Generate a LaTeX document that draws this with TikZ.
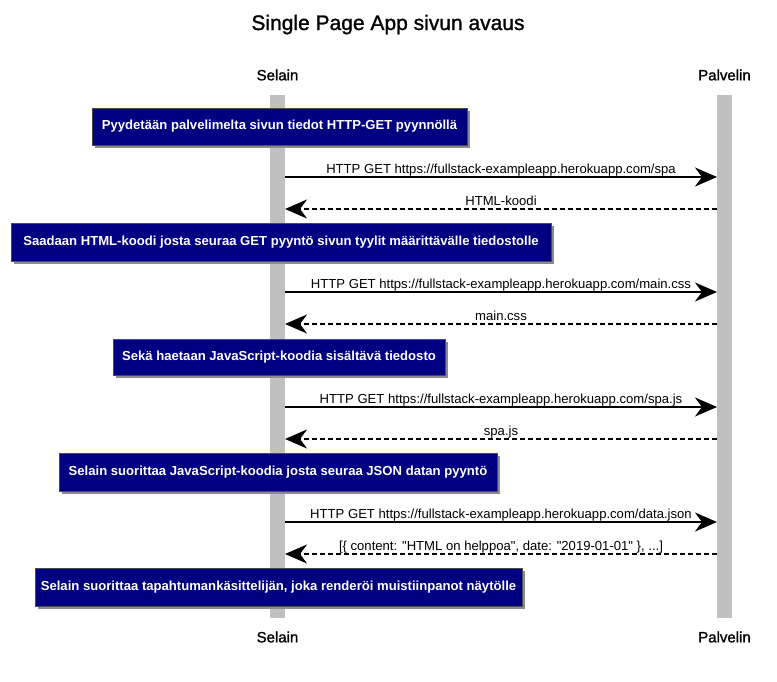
\documentclass[tikz,border=0pt]{standalone}
\usepackage{fontspec}
\setmainfont{Liberation Sans}
\newfontfamily\headfont[FakeBold=1.2]{Liberation Sans}
\usetikzlibrary{arrows.meta}
\definecolor{navy}{HTML}{000080}
\definecolor{barcol}{HTML}{C0C0C0}
\tikzset{
  lifebar/.style={fill=barcol, draw=none},
  actor/.style={font=\headfont\fontsize{15}{17}\selectfont, inner sep=0pt, anchor=center},
  notetext/.style={text=white, font=\bfseries\fontsize{13.1}{15}\selectfont, inner sep=0pt},
  shadow/.style={fill=black!45, draw=none},
  msg/.style={line width=1.6pt, -{Stealth[length=22pt,width=19pt,inset=7pt]}},
  reply/.style={msg, dash pattern=on 5pt off 3pt},
  msglabel/.style={font=\fontsize{13.1}{15}\selectfont, inner sep=0pt, anchor=base},
}
\begin{document}
\begin{tikzpicture}[x=1pt,y=-1pt]
\useasboundingbox (0,0) rectangle (777,681);
\fill[white] (0,0) rectangle (777,681);
% title
\node[font=\headfont\fontsize{21}{24}\selectfont, inner sep=0pt, anchor=base] (title) at (388,30) {Single Page App sivun avaus};
% actors
\node[actor] (selTop) at (277.5,75) {Selain};
\node[actor] (palTop) at (724.5,75) {Palvelin};
\node[actor] (selBot) at (277.5,637) {Selain};
\node[actor] (palBot) at (724.5,637) {Palvelin};
% lifelines
\fill[lifebar] (270,95) rectangle (285,618);
\fill[lifebar] (717,95) rectangle (732,618);
% notes (shadow + box)
\newcommand{\mynote}[6]{%
  \fill[shadow] (#2+2.5,#3+2.5) rectangle (#4+2.5,#5+2.5);
  \filldraw[fill=navy, draw=black!70, line width=0.4pt] (#2,#3) rectangle (#4,#5);
  \node[notetext] (#1) at ({(#2+#4)/2},{(#3+#5)/2}) {#6};
}
\mynote{n1}{92}{108}{467}{145}{Pyydetään palvelimelta sivun tiedot HTTP-GET pyynnöllä}
\mynote{n2}{11}{223}{551}{261}{Saadaan HTML-koodi josta seuraa GET pyyntö sivun tyylit määrittävälle tiedostolle}
\mynote{n3}{113}{339}{445}{375}{Sekä haetaan JavaScript-koodia sisältävä tiedosto}
\mynote{n4}{59}{453}{497}{491}{Selain suorittaa JavaScript-koodia josta seuraa JSON datan pyyntö}
\mynote{n5}{35}{568}{522}{606}{Selain suorittaa tapahtumankäsittelijän, joka renderöi muistiinpanot näytölle}
% message endpoints
\foreach \i/\y in {1/177,2/209,3/292,4/324,5/407,6/439,7/522,8/554}{
  \coordinate (s\i) at (285,\y);
  \coordinate (p\i) at (717,\y);
}
\draw[msg] (s1) -- (p1) node[msglabel, pos=0.5, yshift=4pt] (l1) {HTTP GET https://fullstack-exampleapp.herokuapp.com/spa};
\draw[reply] (p2) -- (s2) node[msglabel, pos=0.5, yshift=4pt] (l2) {HTML-koodi};
\draw[msg] (s3) -- (p3) node[msglabel, pos=0.5, yshift=4pt] (l3) {HTTP GET https://fullstack-exampleapp.herokuapp.com/main.css};
\draw[reply] (p4) -- (s4) node[msglabel, pos=0.5, yshift=4pt] (l4) {main.css};
\draw[msg] (s5) -- (p5) node[msglabel, pos=0.5, yshift=4pt] (l5) {HTTP GET https://fullstack-exampleapp.herokuapp.com/spa.js};
\draw[reply] (p6) -- (s6) node[msglabel, pos=0.5, yshift=4pt] (l6) {spa.js};
\draw[msg] (s7) -- (p7) node[msglabel, pos=0.5, yshift=4pt] (l7) {HTTP GET https://fullstack-exampleapp.herokuapp.com/data.json};
\draw[reply] (p8) -- (s8) node[msglabel, pos=0.5, yshift=4pt] (l8) {[\{ content: \textquotedbl HTML on helppoa\textquotedbl, date: \textquotedbl 2019-01-01\textquotedbl\ \}, ...]};
\end{tikzpicture}
\end{document}
